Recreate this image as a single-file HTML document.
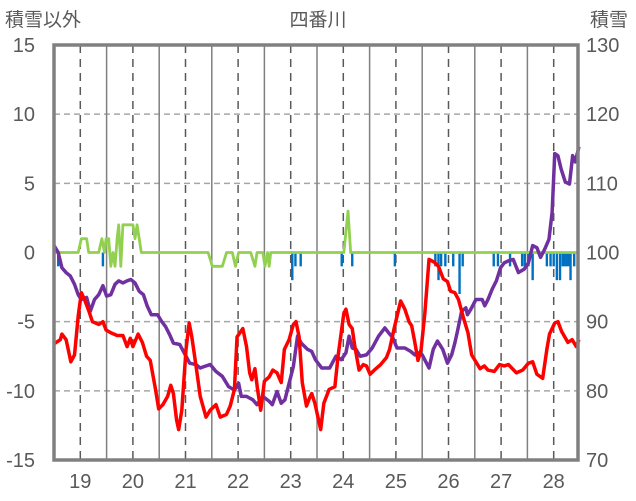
<!DOCTYPE html>
<html><head><meta charset="utf-8"><style>
body{margin:0;background:#fff;}
svg{display:block;font-family:"Liberation Sans","Noto Sans CJK JP",sans-serif;}
</style></head><body>
<svg id="chart" width="636" height="501" viewBox="0 0 636 501">
<g id="grid"></g>
<g id="marks"></g>
<g id="labels"></g>
<rect x="54" y="45" width="524" height="415" fill="none" stroke="#808080" stroke-width="3.5"/>
<text x="5" y="26" font-size="19" fill="#595959">積雪以外</text>
<text x="318" y="26" font-size="19" fill="#595959" text-anchor="middle">四番川</text>
<text x="590" y="26" font-size="19" fill="#595959">積雪</text>
</svg>
<script>
const redDays=[18.50,18.62,18.65,18.73,18.77,18.82,18.89,18.96,19.02,19.08,19.16,19.23,19.35,19.43,19.49,19.58,19.70,19.81,19.89,19.95,20.00,20.10,20.18,20.26,20.33,20.43,20.49,20.57,20.66,20.72,20.77,20.83,20.87,20.93,21.01,21.07,21.12,21.20,21.28,21.39,21.47,21.58,21.66,21.78,21.85,21.93,21.98,22.09,22.16,22.22,22.26,22.32,22.37,22.43,22.50,22.59,22.66,22.74,22.82,22.88,22.97,23.05,23.10,23.16,23.22,23.30,23.36,23.40,23.46,23.57,23.63,23.73,23.84,23.90,24.01,24.05,24.11,24.17,24.22,24.30,24.38,24.44,24.51,24.59,24.71,24.82,24.88,24.96,25.09,25.17,25.25,25.30,25.36,25.42,25.48,25.55,25.63,25.73,25.81,25.90,25.98,26.04,26.12,26.19,26.29,26.37,26.44,26.60,26.68,26.75,26.87,26.97,27.06,27.14,27.29,27.41,27.52,27.60,27.68,27.79,27.87,27.92,28.02,28.08,28.15,28.27,28.35,28.43,28.48];
const redVals=[-6.6,-6.3,-5.9,-6.3,-7.0,-7.9,-7.4,-4.6,-2.9,-3.4,-4.2,-5.0,-5.2,-5.0,-5.6,-5.8,-6.0,-6.0,-6.8,-6.2,-6.8,-5.9,-6.5,-7.5,-7.8,-9.9,-11.3,-11.0,-10.4,-9.6,-10.2,-12.1,-12.8,-11.4,-7.0,-5.1,-6.1,-8.2,-10.4,-11.9,-11.4,-11.0,-11.9,-11.7,-11.1,-9.9,-6.1,-5.5,-6.8,-8.7,-9.2,-8.4,-9.9,-11.4,-9.3,-9.0,-8.5,-8.7,-9.4,-7.0,-6.3,-5.2,-5.0,-6.1,-9.4,-11.1,-10.5,-10.2,-10.9,-12.8,-10.9,-9.9,-9.7,-7.5,-4.4,-4.1,-5.2,-5.5,-6.8,-8.5,-8.1,-8.2,-8.8,-8.5,-8.1,-7.6,-7.0,-5.6,-3.5,-4.1,-5.0,-5.3,-6.5,-7.8,-7.0,-4.4,-0.5,-0.7,-1.0,-1.9,-2.1,-2.8,-2.9,-3.4,-4.8,-5.8,-7.4,-8.4,-8.2,-8.5,-8.6,-8.1,-8.2,-8.1,-8.7,-8.5,-8.0,-7.9,-8.8,-9.1,-7.0,-5.9,-5.1,-5.0,-5.7,-6.5,-6.3,-6.8,-6.3];
const purpleDays=[18.50,18.58,18.65,18.73,18.81,18.89,18.96,19.02,19.12,19.19,19.27,19.35,19.43,19.50,19.58,19.66,19.73,19.81,19.89,19.96,20.04,20.12,20.20,20.27,20.35,20.47,20.54,20.62,20.70,20.77,20.89,21.01,21.08,21.20,21.28,21.35,21.47,21.58,21.70,21.82,21.93,22.01,22.06,22.16,22.28,22.36,22.47,22.59,22.65,22.74,22.82,22.89,22.97,23.05,23.13,23.20,23.32,23.40,23.47,23.59,23.74,23.86,23.96,24.05,24.11,24.17,24.24,24.32,24.44,24.55,24.67,24.79,24.86,24.94,25.02,25.17,25.28,25.36,25.42,25.50,25.63,25.71,25.79,25.89,25.98,26.06,26.12,26.17,26.25,26.33,26.36,26.44,26.52,26.64,26.69,26.75,26.83,26.91,26.99,27.06,27.14,27.23,27.33,27.44,27.52,27.60,27.68,27.75,27.83,27.91,27.97,28.02,28.08,28.14,28.22,28.30,28.36,28.41,28.48];
const purpleVals=[101.0,100,97.8,97.1,96.6,95.4,93.9,93.2,93.5,91.5,93.2,93.9,95.2,93.7,93.9,95.4,95.9,95.6,95.9,96.1,95.6,94.4,93.9,92.3,91.0,91.0,90.1,89.3,88.1,86.9,86.7,85.0,84.0,83.8,83.3,83.5,83.8,82.8,82.1,80.6,80.1,81.1,79.2,79.2,78.7,78.0,79.2,78.5,78.0,79.9,78.2,78.7,81.1,83.5,87.9,86.9,86.0,85.7,84.5,83.3,83.3,85.0,84.5,85.5,87.9,86.2,86.0,85.0,85.2,86.2,87.9,89.1,88.4,87.7,86.2,86.2,85.7,85.2,85.5,85.2,83.3,86.0,87.2,86.0,84.0,85.2,86.9,88.6,91.5,92.0,91.0,92.0,93.2,93.2,92.3,93.2,94.7,95.9,97.8,98.5,98.8,99.0,97.1,97.6,98.5,101.0,100.7,99.3,100.5,101.9,105.8,114.3,114.0,112.1,110.2,109.9,114.0,113.1,115.3];
const greenDays=[18.5,18.96,19.02,19.12,19.16,19.35,19.41,19.46,19.49,19.54,19.58,19.62,19.66,19.70,19.73,19.77,19.81,19.89,20.00,20.04,20.08,20.16,21.43,21.51,21.70,21.78,21.89,21.95,22.01,22.24,22.32,22.36,22.47,22.51,22.56,22.59,22.62,24.01,24.09,24.14,28.48];
const greenVals=[0,0,1,1,0,0,1,0,1,1,-1,0,-1,1,2,-1,2,2,2,1,2,0,0,-1,-1,0,0,-1,0,0,-1,0,0,-1,0,-1,0,0,3,0,0];
const barDays=[18.58,19.43,23.03,23.09,23.19,23.97,24.17,24.98,25.75,25.81,25.86,25.94,26.09,26.21,26.27,26.86,26.94,27.17,27.52,27.60,27.87,27.94,28.06,28.12,28.17,28.24,28.32,28.39,27.40,27.45,28.00,28.20,28.28];
const barVals=[-1,-1,-2,-1,-1,-1,-1,-1,-1,-2,-1,-1,-1,-3,-1,-1,-1,-1,-1,-2,-1,-1,-2,-2,-1,-1,-2,-1,-1,-1,-1,-1,-1];
const leftTicks=[15,10,5,0,-5,-10,-15];
const rightTicks=[130,120,110,100,90,80,70];
const dayTicks=[19,20,21,22,23,24,25,26,27,28];

const NS="http://www.w3.org/2000/svg";
const X0=54,X1=578,Y0=45,Y1=460;
const xS=d=>X0+(d-18.5)*52.6;
const yL=v=>Y1-(v+15)/30*(Y1-Y0);
const yR=v=>Y1-(v-70)/60*(Y1-Y0);
function mk(tag,attrs,parent){const e=document.createElementNS(NS,tag);for(const k in attrs)e.setAttribute(k,attrs[k]);parent.appendChild(e);return e;}
const grid=document.getElementById('grid'),marks=document.getElementById('marks'),labels=document.getElementById('labels');
leftTicks.forEach((t,i)=>{
  if(t!==15&&t!==-15&&t!==0){const l=mk('line',{x1:X0,x2:X1,y1:yL(t),y2:yL(t),stroke:'#a6a6a6','stroke-width':1.5,'stroke-dasharray':'6,4'},grid);
  
  }
  const tx=mk('text',{x:35,y:yL(t)+7,'font-size':20,fill:'#595959','text-anchor':'end'},labels);tx.textContent=t;
  
  
  const rx=mk('text',{x:586,y:yR(rightTicks[i])+7,'font-size':20,fill:'#595959'},labels);rx.textContent=rightTicks[i];
  
  
});
dayTicks.forEach(d=>{
  const l=mk('line',{x1:xS(d),x2:xS(d),y1:Y0,y2:Y1,stroke:'#595959','stroke-width':1.5,'stroke-dasharray':'8,6'},grid);
  
  
  if(d<28){const s=mk('line',{x1:xS(d+0.5),x2:xS(d+0.5),y1:Y0,y2:Y1,stroke:'#808080','stroke-width':1.5},grid);
  
  }
  const tx=mk('text',{x:xS(d),y:488,'font-size':20,fill:'#595959','text-anchor':'middle'},labels);tx.textContent=d;
  
  
});
barDays.forEach((d,i)=>{
  const b=mk('rect',{x:xS(d)-1.2,y:yL(0),width:2.4,height:yL(barVals[i])-yL(0),fill:'#0070c0'},marks);
  
  
});
function line(days,vals,ys,color,w,name){
  const p=mk('polyline',{points:days.map((d,i)=>xS(d)+','+ys(vals[i])).join(' '),fill:'none',stroke:color,'stroke-width':w,'stroke-linejoin':'round'},marks);
  
  
}
line(greenDays,greenVals,yL,'#92d050',2.8,'green-series-line');
line(purpleDays,purpleVals,yR,'#7030a0',3.5,'snow-depth-line');
line(redDays,redVals,yL,'#ff0000',3.5,'red-series-line');
</script>
</body></html>
